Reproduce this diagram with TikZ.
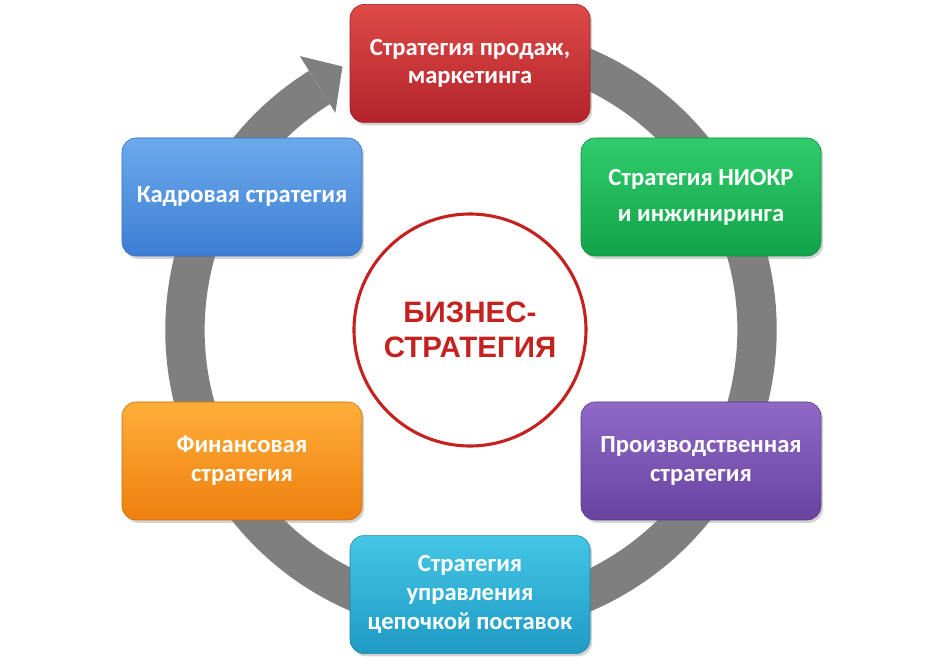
\documentclass[tikz,border=0pt]{standalone}
\usepackage{fontspec}
\setmainfont{Carlito}
\newfontfamily\hubfont{Liberation Sans}
\usetikzlibrary{positioning,shadows}
\definecolor{ringgray}{HTML}{7F7F7F}
\definecolor{hubred}{HTML}{C4221F}
\definecolor{redtop}{HTML}{DE4A47}
\definecolor{redbot}{HTML}{B3232A}
\definecolor{greentop}{HTML}{30CC6C}
\definecolor{greenbot}{HTML}{12A349}
\definecolor{bluetop}{HTML}{6CA9EC}
\definecolor{bluebot}{HTML}{3D7ED3}
\definecolor{orangetop}{HTML}{FFAE3A}
\definecolor{orangebot}{HTML}{EE7F0E}
\definecolor{purpletop}{HTML}{9069C6}
\definecolor{purplebot}{HTML}{6943A0}
\definecolor{cyantop}{HTML}{44C6E6}
\definecolor{cyanbot}{HTML}{1F9AC4}

\begin{document}
\begin{tikzpicture}[
    box/.style={rectangle, rounded corners=10pt, minimum width=6cm, minimum height=2.95cm,
      outer sep=0pt, align=center, text=white, font=\bfseries\fontsize{17.5}{20.5}\selectfont,
      drop shadow={opacity=0.35, shadow xshift=1.5pt, shadow yshift=-2pt}},
    hub/.style={circle, draw=hubred, line width=2.2pt, minimum size=5.8cm, fill=white,
      align=center, text=hubred, font=\hubfont\bfseries\fontsize{21}{25}\selectfont}
  ]
    \useasboundingbox (0,0) rectangle (23.6,16.675);
    \coordinate (c) at (11.775,8.425);
    % ring
    \draw[ringgray, line width=28pt] (c) ++(80:7.15) arc[start angle=80, end angle=-238, radius=7.15cm];
    \fill[ringgray, shift={(c)}] (122:8.075) -- (116:7.33) -- (122:6.4) -- cycle;
    \node[hub] (biz) at (11.75,8.425) {БИЗНЕС-\\СТРАТЕГИЯ};
    \node[box, above = 2.25cm of biz, top color=redtop, bottom color=redbot, draw=redbot!85!black] (sales) {Стратегия продаж,\\маркетинга};
    \node[box, below = 2.2cm of biz, top color=cyantop, bottom color=cyanbot, draw=cyanbot!85!black] (supply) {Стратегия\\управления\\цепочкой поставок};
    \node[box, top color=bluetop, bottom color=bluebot, draw=bluebot!85!black] (hr) at (6.05,11.75) {Кадровая стратегия};
    \node[box, right = 5.475cm of hr, top color=greentop, bottom color=greenbot, draw=greenbot!85!black] (rnd) {Стратегия НИОКР\\[5pt]и инжиниринга};
    \node[box, below = 3.65cm of hr, top color=orangetop, bottom color=orangebot, draw=orangebot!85!black] (fin) {Финансовая\\стратегия};
    \node[box, right = 5.475cm of fin, top color=purpletop, bottom color=purplebot, draw=purplebot!85!black] (prod) {Производственная\\стратегия};
\end{tikzpicture}
\end{document}
